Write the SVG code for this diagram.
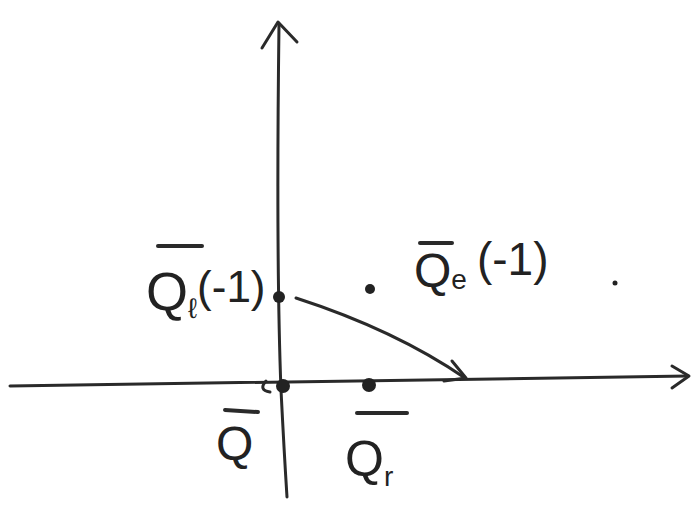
<svg xmlns="http://www.w3.org/2000/svg" width="699" height="518" viewBox="0 0 699 518">
<style>
.ax{fill:none;stroke:#2a2a2a;stroke-width:3;stroke-linecap:round;stroke-linejoin:round}
.bar{stroke:#2a2a2a;stroke-width:4;stroke-linecap:round}
.dot{fill:#222}
.lbl{font-family:"Liberation Sans","DejaVu Sans",sans-serif;fill:#222}
</style>
<rect width="699" height="518" fill="#ffffff"/>
<g id="axes">
<path class="ax" d="M279,24 Q276,260 281,390 Q284,450 287,497"/>
<path class="ax" d="M262,48 L278,22 L297,42"/>
<path class="ax" d="M10,386 Q300,382 688,376"/>
<path class="ax" d="M672,366 L689,376 L672,388"/>
</g>
<g id="connectors">
<path class="ax" d="M296,298 Q395,330 465,378"/>
<path class="ax" d="M452,361 L466,378 L444,381"/>
</g>
<g id="node-ql">
<circle class="dot" cx="279" cy="297" r="6"/>
<line class="bar" x1="158" y1="246" x2="202" y2="246"/>
<text class="lbl" x="146" y="310" font-size="54">Q<tspan font-size="28" dy="8">ℓ</tspan><tspan font-size="44" dy="-16">(-1)</tspan></text>
</g>
<g id="node-qe">
<circle class="dot" cx="370" cy="289" r="5"/>
<line class="bar" x1="420" y1="243" x2="452" y2="243"/>
<text class="lbl" x="414" y="287" font-size="48">Q<tspan font-size="28" dy="2">e</tspan><tspan font-size="46" dy="-14" dx="10">(-1)</tspan></text>
<circle class="dot" cx="615" cy="283" r="2.5"/>
</g>
<g id="node-q">
<circle class="dot" cx="283" cy="386" r="7"/>
<path class="ax" d="M266,381 Q258,390 270,392"/>
<line class="bar" x1="225" y1="410" x2="258" y2="412"/>
<text class="lbl" x="216" y="460" font-size="48">Q</text>
</g>
<g id="node-qr">
<circle class="dot" cx="369" cy="385" r="7"/>
<line class="bar" x1="357" y1="413" x2="407" y2="413"/>
<text class="lbl" x="345" y="476" font-size="50">Q<tspan font-size="28" dy="10">r</tspan></text>
</g>
</svg>
